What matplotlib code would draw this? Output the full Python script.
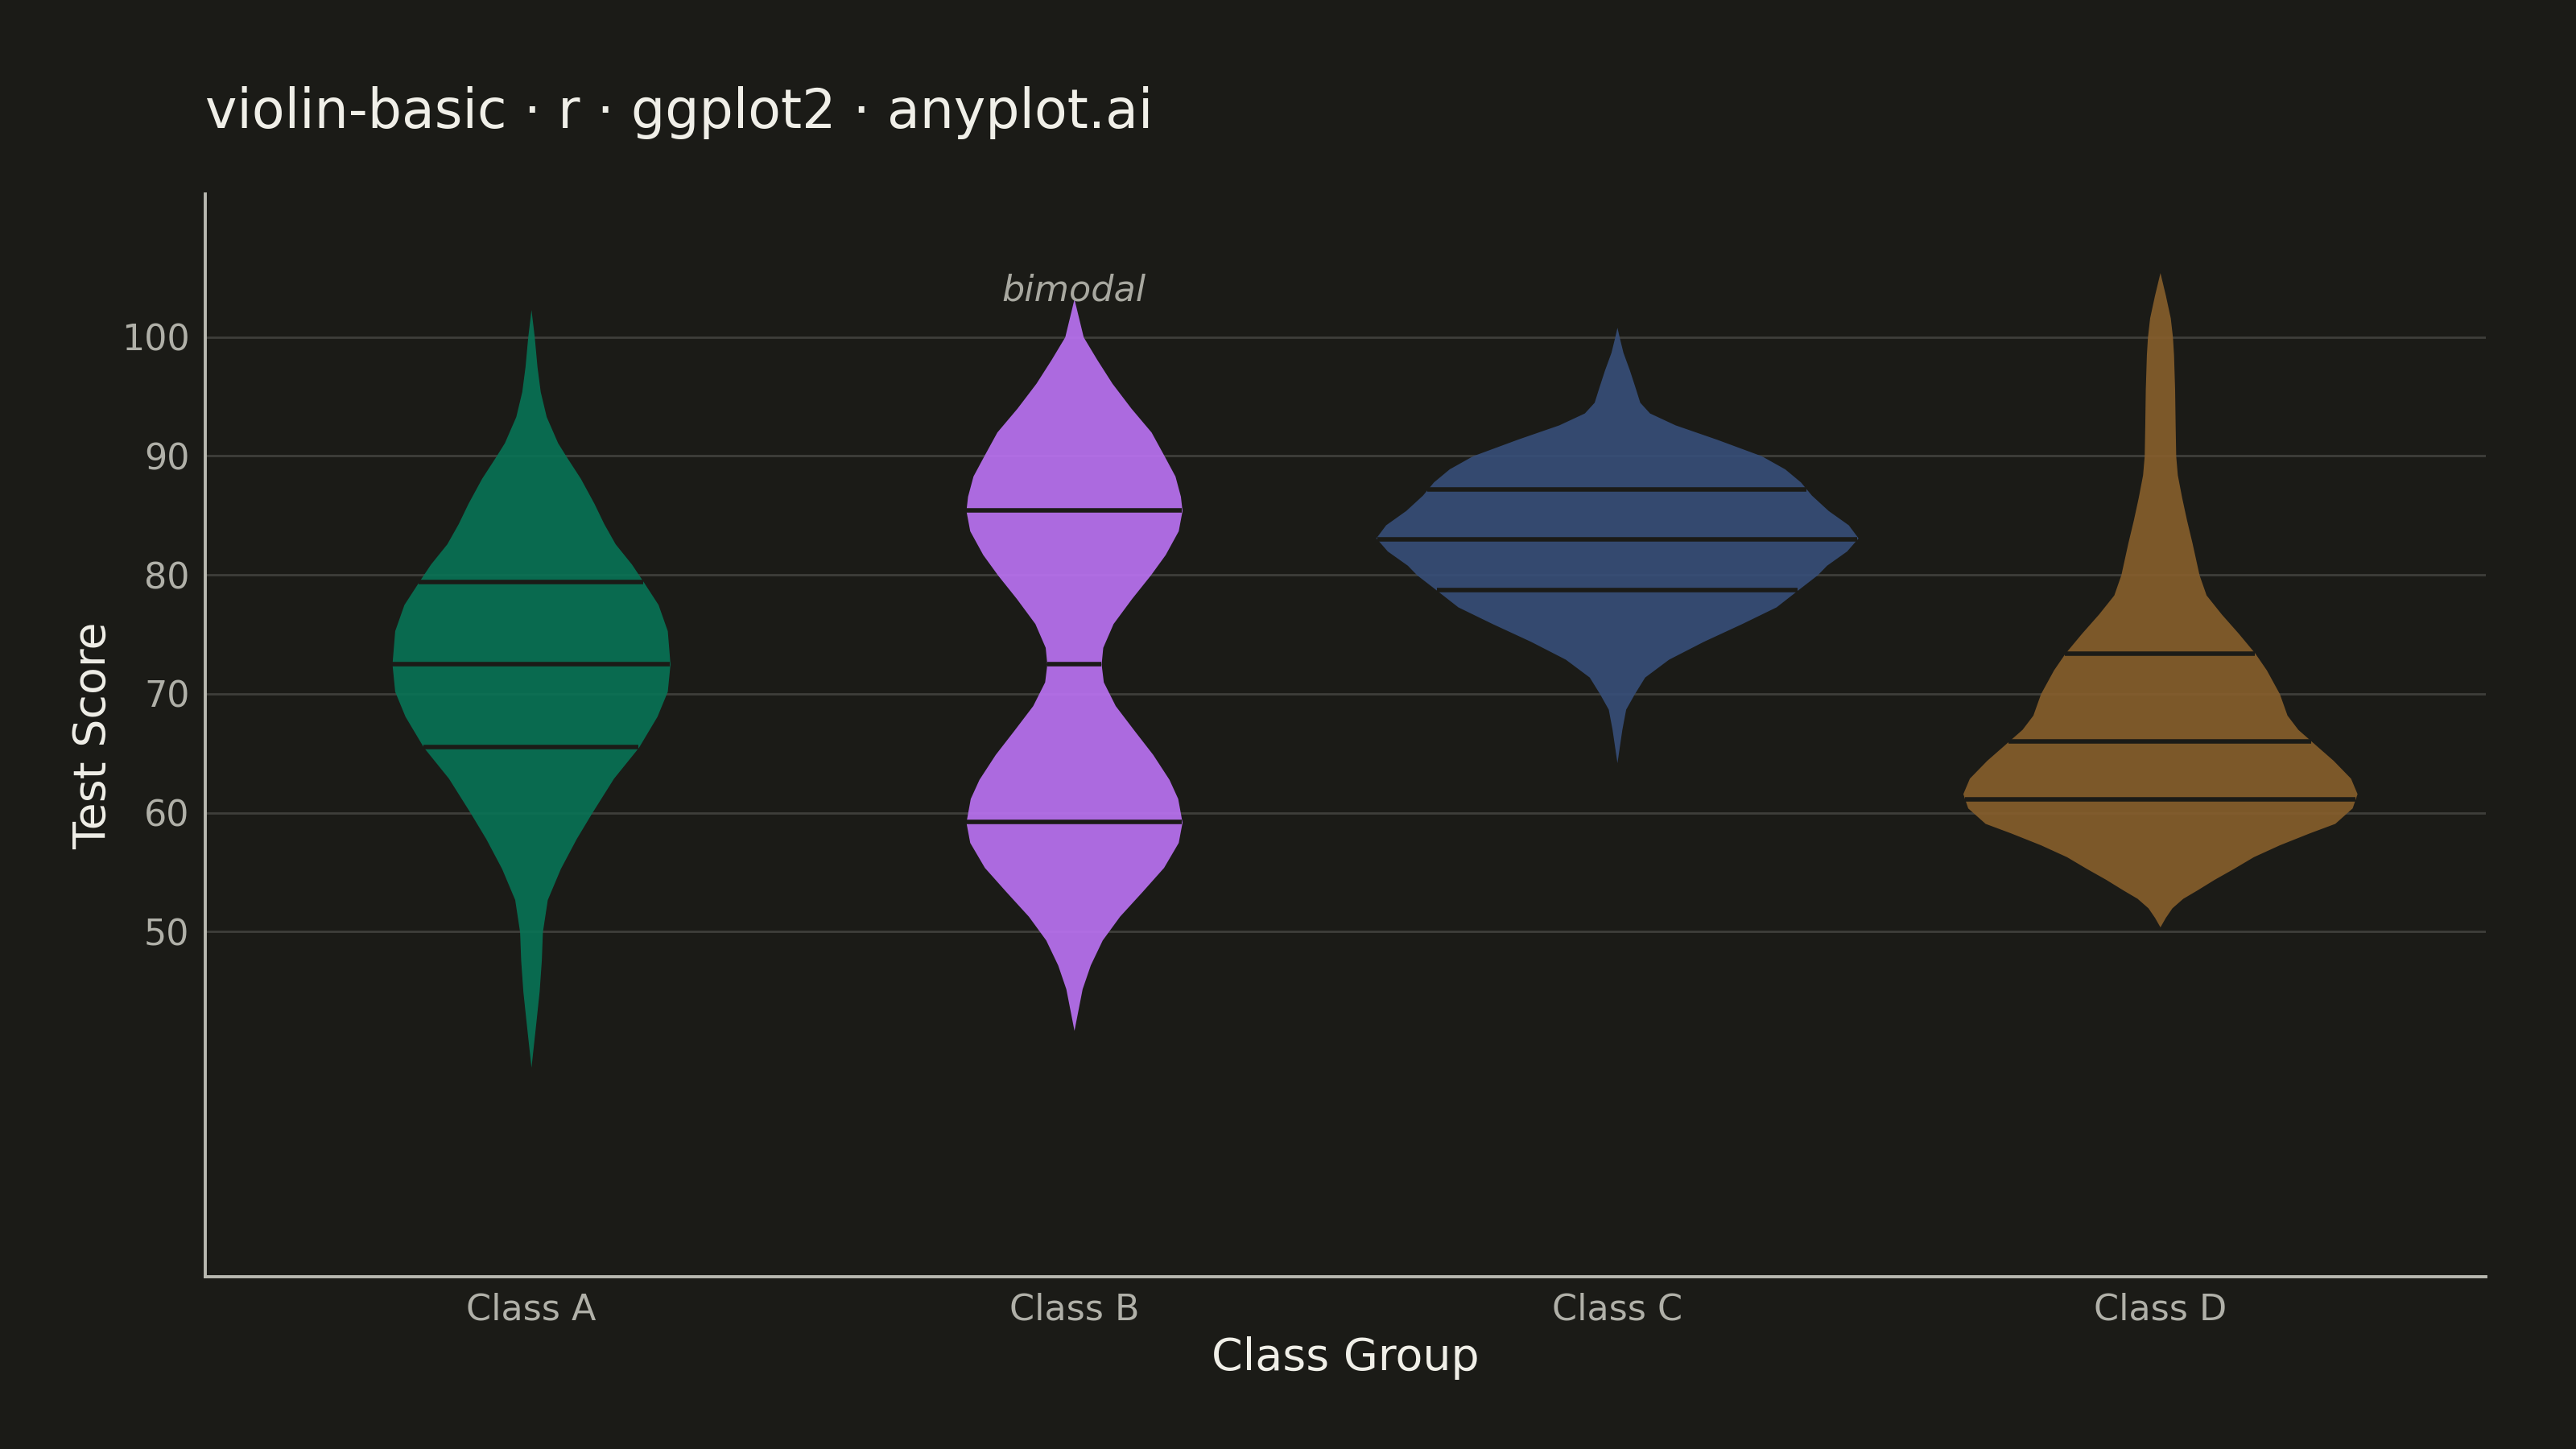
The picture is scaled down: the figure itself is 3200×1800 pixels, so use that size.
import numpy as np
import matplotlib.pyplot as plt

# classes and colours
classes = ["Class A", "Class B", "Class C", "Class D"]
colors = ["#087456", "#bd73f6", "#374f7a", "#885f2c"]

# violin outlines: score value -> half width (x units)
a_y = [38.6, 42.4, 45.0, 47.6, 50.0, 52.7, 55.3, 57.8, 60.0, 62.9, 65.5, 68.1, 70.2,
       72.5, 75.3, 77.5, 79.4, 80.9, 82.6, 84.3, 86.0, 88.1, 90.0, 91.1, 93.3, 95.4,
       97.5, 100.0, 102.3]
a_w = [0.0, 0.009, 0.015, 0.019, 0.021, 0.030, 0.054, 0.083, 0.112, 0.152, 0.198, 0.232, 0.251,
       0.256, 0.251, 0.234, 0.207, 0.185, 0.155, 0.134, 0.116, 0.091, 0.064, 0.049, 0.028, 0.017,
       0.011, 0.006, 0.0]

b_y = [41.7, 45.2, 47.2, 49.3, 51.3, 53.4, 55.4, 57.5, 59.2, 61.2, 62.8, 64.9, 66.9,
       69.0, 71.0, 72.5, 73.9, 75.9, 78.0, 80.0, 81.7, 83.7, 85.4, 86.6, 88.3, 90.0,
       92.0, 94.0, 96.1, 98.1, 100.0, 103.2]
b_w = [0.0, 0.015, 0.030, 0.052, 0.084, 0.126, 0.165, 0.192, 0.199, 0.191, 0.175, 0.145, 0.111,
       0.076, 0.054, 0.050, 0.053, 0.072, 0.106, 0.141, 0.168, 0.192, 0.199, 0.196, 0.186, 0.166,
       0.142, 0.105, 0.070, 0.042, 0.017, 0.0]

c_y = [64.2, 67.0, 68.7, 70.0, 71.4, 72.9, 74.4, 75.9, 77.3, 78.8, 80.0, 80.8, 82.0,
       83.1, 84.2, 85.4, 86.7, 87.8, 88.9, 90.0, 91.4, 92.6, 93.6, 94.5, 95.8, 97.2,
       98.7, 100.0, 100.8]
c_w = [0.0, 0.009, 0.016, 0.032, 0.051, 0.095, 0.159, 0.230, 0.293, 0.335, 0.369, 0.386, 0.423,
       0.444, 0.426, 0.389, 0.358, 0.338, 0.309, 0.266, 0.183, 0.107, 0.060, 0.042, 0.033, 0.023,
       0.011, 0.004, 0.0]

d_y = [50.4, 51.2, 52.0, 52.8, 53.5, 54.4, 55.3, 56.3, 57.3, 58.3, 59.1, 60.4, 61.6,
       62.9, 64.4, 66.0, 67.0, 68.2, 70.0, 72.0, 73.4, 75.1, 76.7, 78.3, 80.0, 82.7,
       84.6, 86.5, 88.4, 90.0, 92.5, 95.6, 98.5, 100.0, 101.6, 103.5, 105.4]
d_w = [0.0, 0.010, 0.022, 0.042, 0.068, 0.100, 0.135, 0.172, 0.220, 0.275, 0.322, 0.354, 0.363,
       0.351, 0.319, 0.279, 0.254, 0.234, 0.220, 0.196, 0.175, 0.144, 0.113, 0.085, 0.072, 0.059,
       0.049, 0.040, 0.032, 0.029, 0.028, 0.027, 0.025, 0.023, 0.019, 0.010, 0.0]

# quartiles (25 / 50 / 75)
quartiles = [[65.5, 72.5, 79.4], [59.2, 72.5, 85.4], [78.7, 83.0, 87.2], [61.1, 66.0, 73.4]]

profiles = [(a_y, a_w), (b_y, b_w), (c_y, c_w), (d_y, d_w)]
yticks = [50, 60, 70, 80, 90, 100]

bg = "#1b1b17"
fig = plt.figure(figsize=(16, 9), dpi=200, facecolor=bg)
ax = fig.add_axes([0.0797, 0.1189, 0.8853, 0.7471])
ax.set_facecolor(bg)

for i, (ys, ws) in enumerate(profiles):
    pos = i + 1
    ys = np.array(ys)
    ws = np.array(ws)
    ax.fill_betweenx(ys, pos - ws, pos + ws, color=colors[i], alpha=0.9,
                     linewidth=0, zorder=2)
    for q in quartiles[i]:
        hw = np.interp(q, ys, ws)
        ax.plot([pos - hw, pos + hw], [q, q], color=bg, lw=2.0,
                solid_capstyle="butt", zorder=3)

ax.text(2, 103.9, "bimodal", ha="center", va="center", style="italic",
        color="#a8a8a0", fontsize=16)

ax.set_xlim(0.4, 4.6)
ax.set_ylim(21, 112)
ax.set_xticks([1, 2, 3, 4])
ax.set_xticklabels(classes)
ax.set_yticks(yticks)
ax.tick_params(length=0, colors="#b0b0a8", labelsize=16, pad=7)
ax.grid(axis="y", color="#3e3e3a", lw=1.0, zorder=0)
ax.set_axisbelow(True)
for s in ["top", "right"]:
    ax.spines[s].set_visible(False)
for s in ["left", "bottom"]:
    ax.spines[s].set_color("#b8b8b0")
    ax.spines[s].set_linewidth(1.4)

ax.set_xlabel("Class Group", color="#f0efe8", fontsize=20, labelpad=4)
ax.set_ylabel("Test Score", color="#f0efe8", fontsize=20, labelpad=3)
fig.text(0.0797, 0.922, "violin-basic · r · ggplot2 · anyplot.ai", color="#f0efe8",
         fontsize=24, ha="left", va="center")

fig.savefig("out.png", dpi=200, facecolor=bg)
